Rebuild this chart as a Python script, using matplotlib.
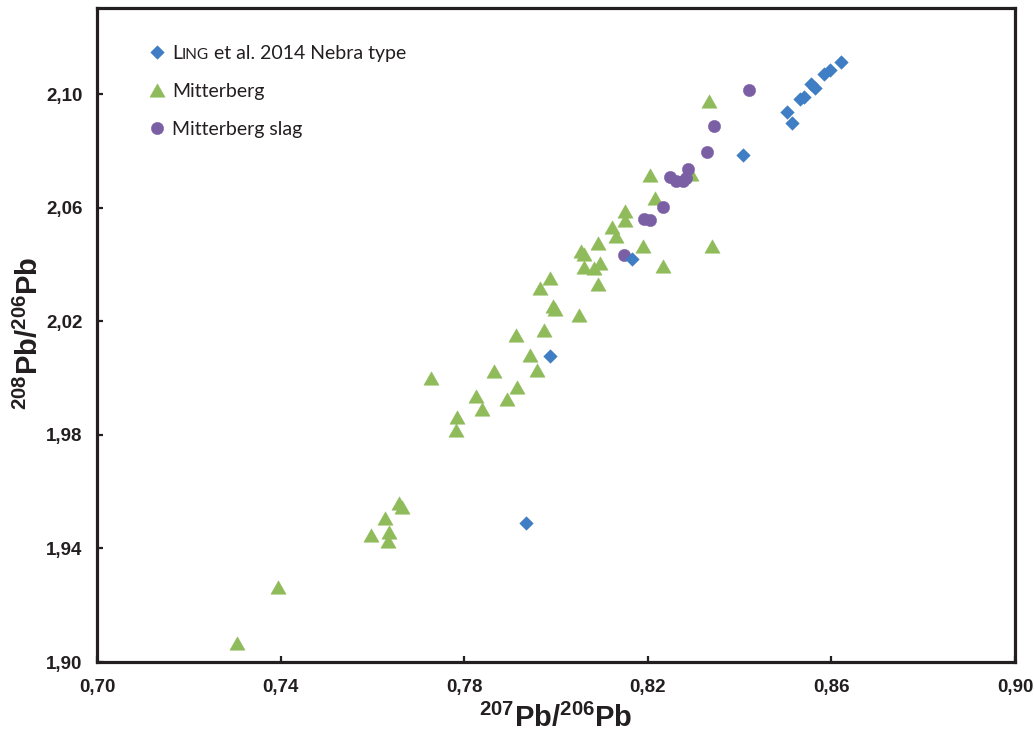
import matplotlib
matplotlib.use('Agg')
import matplotlib.pyplot as plt
from matplotlib.path import Path
from matplotlib.ticker import FixedLocator, FuncFormatter
from matplotlib import font_manager as fm

# ---------------- data ----------------
ling_x = [0.8620, 0.8598, 0.8583, 0.8565, 0.8556, 0.8541, 0.8532, 0.8504,
          0.8515, 0.8408, 0.8166, 0.7987, 0.7935]
ling_y = [2.1113, 2.1085, 2.1072, 2.1021, 2.1035, 2.0989, 2.0982, 2.0937,
          2.0898, 2.0785, 2.0419, 2.0077, 1.9489]

mitt_x = [0.7306, 0.7394, 0.7597, 0.7628, 0.7636, 0.7635, 0.7659, 0.7665,
          0.7783, 0.7785, 0.7839, 0.7826, 0.7894, 0.7915, 0.7727, 0.7865,
          0.7959, 0.7944, 0.7974, 0.7913, 0.8051, 0.7998, 0.7993, 0.7965,
          0.7986, 0.8091, 0.8062, 0.8082, 0.8095, 0.8054, 0.8060, 0.8091,
          0.8190, 0.8340, 0.8234, 0.8131, 0.8123, 0.8151, 0.8151, 0.8215,
          0.8205, 0.8294, 0.8334]
mitt_y = [1.9066, 1.9263, 1.9446, 1.9506, 1.9458, 1.9427, 1.9559, 1.9547,
          1.9817, 1.9862, 1.9892, 1.9938, 1.9925, 1.9967, 2.0000, 2.0026,
          2.0028, 2.0081, 2.0169, 2.0152, 2.0222, 2.0242, 2.0254, 2.0316,
          2.0353, 2.0331, 2.0392, 2.0386, 2.0404, 2.0449, 2.0437, 2.0476,
          2.0465, 2.0465, 2.0394, 2.0500, 2.0533, 2.0556, 2.0587, 2.0635,
          2.0715, 2.0717, 2.0975]

slag_x = [0.8421, 0.8345, 0.8330, 0.8288, 0.8248, 0.8261, 0.8277, 0.8284,
          0.8234, 0.8191, 0.8205, 0.8149]
slag_y = [2.1014, 2.0887, 2.0795, 2.0735, 2.0709, 2.0693, 2.0693, 2.0705,
          2.0603, 2.0559, 2.0556, 2.0432]

x_ticks = [0.70, 0.74, 0.78, 0.82, 0.86, 0.90]
y_ticks = [1.90, 1.94, 1.98, 2.02, 2.06, 2.10]

legend_labels = ['L', 'Mitterberg', 'Mitterberg slag']
smallcaps_part = 'ING'
rest_part = ' et al. 2014 Nebra type'

# ---------------- fonts ----------------
def has_font(name):
    try:
        fm.findfont(fm.FontProperties(family=name), fallback_to_default=False)
        return True
    except Exception:
        return False

tick_font = 'Liberation Sans' if has_font('Liberation Sans') else 'DejaVu Sans'
label_font = 'Liberation Sans Narrow' if has_font('Liberation Sans Narrow') else tick_font
leg_font = 'Lato' if has_font('Lato') else 'DejaVu Sans'

plt.rcParams['mathtext.fontset'] = 'custom'
plt.rcParams['mathtext.rm'] = label_font + ':bold'
plt.rcParams['mathtext.bf'] = label_font + ':bold'
plt.rcParams['mathtext.it'] = label_font + ':bold'

# ---------------- markers ----------------
tri = Path([(0, 0.88), (-1, -0.88), (1, -0.88), (0, 0.88)],
           [Path.MOVETO, Path.LINETO, Path.LINETO, Path.CLOSEPOLY])
dia = Path([(0, 1), (1, 0), (0, -1), (-1, 0), (0, 1)],
           [Path.MOVETO, Path.LINETO, Path.LINETO, Path.LINETO, Path.CLOSEPOLY])

blue = '#3F7DC4'
green = '#8FBB5A'
purple = '#7B5FA5'
ink = '#231F20'

fig = plt.figure(figsize=(10.34, 7.34), dpi=100)
ax = fig.add_axes([97/1034, 1 - 662/734, (1015 - 97)/1034, (662 - 8)/734])

hg, = ax.plot(mitt_x, mitt_y, ls='none', marker=tri, ms=11.0, mfc=green,
              mec=green, mew=0.3, zorder=3)
hp, = ax.plot(slag_x, slag_y, ls='none', marker='o', ms=8.9, mfc=purple,
              mec=purple, mew=0.3, zorder=4)
hb, = ax.plot(ling_x, ling_y, ls='none', marker=dia, ms=9.8, mfc=blue,
              mec=blue, mew=0.3, zorder=5)

ax.set_xlim(0.70, 0.90)
ax.set_ylim(1.90, 2.1303)
ax.xaxis.set_major_locator(FixedLocator(x_ticks))
ax.yaxis.set_major_locator(FixedLocator(y_ticks))
fmt = FuncFormatter(lambda v, p: f'{v:.2f}'.replace('.', ','))
ax.xaxis.set_major_formatter(fmt)
ax.yaxis.set_major_formatter(fmt)
ax.minorticks_off()

for s in ax.spines.values():
    s.set_linewidth(2.3)
    s.set_color(ink)
ax.tick_params(axis='both', direction='in', length=4, width=1.6,
               color=ink, labelsize=13.5, labelcolor=ink)
ax.tick_params(axis='y', pad=10.5)
ax.tick_params(axis='x', pad=12)
for lab in ax.get_xticklabels() + ax.get_yticklabels():
    lab.set_fontfamily(tick_font)
    lab.set_fontweight('bold')

fig.text(556/1034, 1 - 718/734, r'$\mathbf{^{207}Pb/^{206}Pb}$',
         ha='center', va='center', fontsize=21, color=ink)
fig.text(29/1034, 1 - 333/734, r'$\mathbf{^{208}Pb/^{206}Pb}$',
         ha='center', va='center', fontsize=21, color=ink, rotation=90)

leg = ax.legend(handles=[hb, hg, hp], labels=legend_labels, loc='upper left',
                bbox_to_anchor=(0.0569, 0.944), borderaxespad=0, borderpad=0,
                frameon=False, numpoints=1, handlelength=0.8,
                handletextpad=0.37, labelspacing=1.08,
                prop={'family': leg_font, 'size': 14})
leg.set_zorder(6)
for t in leg.get_texts():
    t.set_color(ink)

t0 = leg.get_texts()[0]
a1 = ax.annotate(smallcaps_part, xy=(1, 0), xycoords=t0, ha='left', va='bottom',
                 fontsize=11, family=leg_font, color=ink, zorder=10)
a2 = ax.annotate(rest_part, xy=(1, 0), xycoords=a1, ha='left', va='bottom',
                 fontsize=14, family=leg_font, color=ink, zorder=11)

fig.savefig('out.png', dpi=100)
